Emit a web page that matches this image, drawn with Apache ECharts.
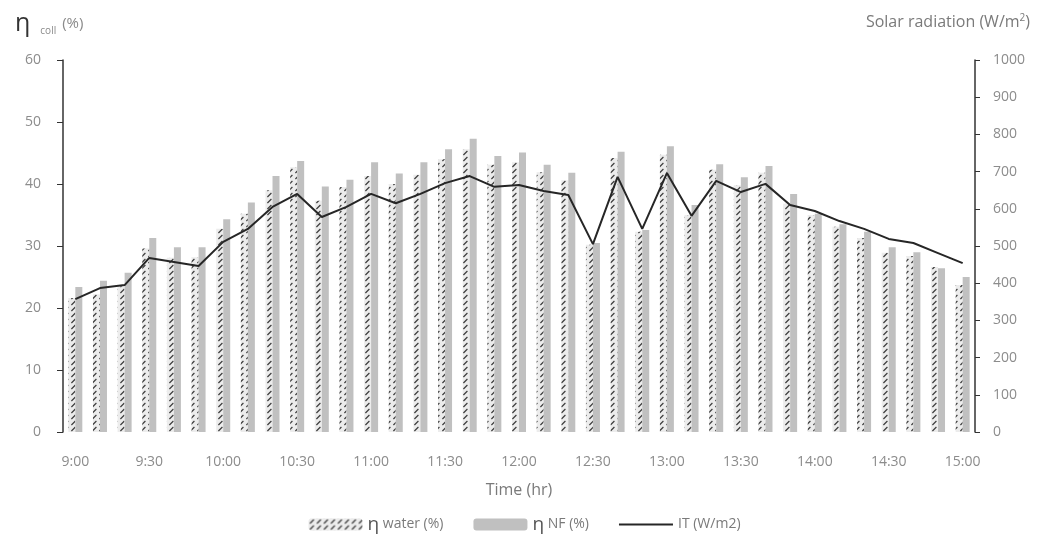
<!DOCTYPE html>
<html>
<head>
<meta charset="utf-8">
<script src="https://cdn.jsdelivr.net/npm/echarts@6/dist/echarts.min.js"></script>
<style>
  html, body { margin: 0; padding: 0; background: #fff; }
  #chart { width: 1049px; height: 534px; }
</style>
</head>
<body>
<div id="chart"></div>
<script>
// Sampling times, every 10 minutes
const times = [
  '9:00','9:10','9:20','9:30','9:40','9:50',
  '10:00','10:10','10:20','10:30','10:40','10:50',
  '11:00','11:10','11:20','11:30','11:40','11:50',
  '12:00','12:10','12:20','12:30','12:40','12:50',
  '13:00','13:10','13:20','13:30','13:40','13:50',
  '14:00','14:10','14:20','14:30','14:40','14:50',
  '15:00'
];

// Collector efficiency with water (%)
const etaWater = [
  21.6, 22.2, 23.5, 29.6, 28.1, 28.2,
  32.8, 35.2, 39.0, 42.7, 37.3, 39.5,
  41.3, 40.0, 41.5, 44.0, 45.6, 43.1,
  43.5, 41.9, 40.6, 30.2, 44.2, 32.3,
  44.7, 35.0, 42.3, 39.8, 41.8, 36.8,
  35.0, 33.1, 31.3, 28.9, 28.4, 26.6,
  23.7
];

// Collector efficiency with nanofluid (%)
const etaNF = [
  23.4, 24.4, 25.7, 31.3, 29.8, 29.8,
  34.3, 37.0, 41.3, 43.7, 39.6, 40.7,
  43.5, 41.7, 43.5, 45.6, 47.3, 44.5,
  45.1, 43.1, 41.8, 30.5, 45.2, 32.6,
  46.1, 36.6, 43.2, 41.1, 42.9, 38.4,
  35.2, 33.5, 32.3, 29.8, 29.0, 26.4,
  25.0
];

// Solar radiation on the collector (W/m2)
const radiation = [
  357, 387, 395, 468, 457, 446,
  511, 546, 605, 640, 578, 605,
  640, 615, 640, 669, 688, 659,
  664, 648, 637, 505, 686, 546,
  696, 581, 675, 645, 667, 610,
  594, 567, 546, 519, 508, 481,
  454
];

const seriesNames = ['η water (%)', 'η NF (%)', 'IT (W/m2)'];

// Diagonal dash fill for the water bars
function hatchPattern() {
  const c = document.createElement('canvas');
  c.width = 7; c.height = 6;
  const g = c.getContext('2d');
  g.fillStyle = '#ececec';
  g.fillRect(0, 0, 7, 6);
  g.strokeStyle = '#3a3a3a';
  g.lineWidth = 1.2;
  g.beginPath();
  g.moveTo(1.4, 5.0);
  g.lineTo(5.4, 1.0);
  g.stroke();
  return c;
}

const labelColor = '#8c8c8c';
const textColor = '#7a7a7a';
const fontFamily = '"Open Sans", Lato, sans-serif';

const chart = echarts.init(document.getElementById('chart'), null, { renderer: 'canvas' });

chart.setOption({
  backgroundColor: '#ffffff',
  animation: false,
  textStyle: { fontFamily: fontFamily },
  title: [
    {
      text: '{eta|η}{sub|coll}{p|(%)}',
      left: 10, top: 6,
      textStyle: {
        fontWeight: 'normal',
        rich: {
          eta: { fontSize: 25, fontWeight: 'normal', color: '#333', fontFamily: fontFamily, verticalAlign: 'bottom', padding: [0, 10, 0, 0] },
          sub: { fontSize: 10, fontWeight: 'normal', color: '#8a8a8a', fontFamily: fontFamily, verticalAlign: 'bottom', padding: [0, 6, 0, 0] },
          p: { fontSize: 15, fontWeight: 'normal', color: '#8a8a8a', fontFamily: fontFamily, verticalAlign: 'bottom', padding: [0, 0, 5, 0] }
        }
      }
    },
    {
      text: 'Solar radiation (W/m{sup|2})',
      right: 14, top: 8,
      textStyle: {
        fontSize: 16, fontWeight: 'normal', color: textColor, fontFamily: fontFamily,
        rich: { sup: { fontSize: 10, fontWeight: 'normal', color: textColor, fontFamily: fontFamily, verticalAlign: 'top', padding: [0, 0, 8, 0] } }
      }
    }
  ],
  grid: { left: 63, right: 74, top: 60, bottom: 102, containLabel: false },
  legend: {
    data: [
      { name: seriesNames[0] },
      { name: seriesNames[1] },
      { name: seriesNames[2], icon: 'path://M0,0 L60,0 L60,2 L0,2 Z' }
    ],
    top: 510,
    left: 'center',
    itemWidth: 54,
    itemHeight: 12,
    itemGap: 30,
    formatter: name => name.replace('η', '{e|η}'),
    textStyle: {
      fontSize: 14, color: textColor, fontFamily: fontFamily,
      rich: { e: { fontSize: 19, color: '#555', fontFamily: fontFamily } }
    }
  },
  xAxis: {
    type: 'category',
    data: times,
    boundaryGap: true,
    name: 'Time (hr)',
    nameLocation: 'middle',
    nameGap: 50,
    nameTextStyle: { fontSize: 16, color: textColor },
    axisLine: { show: false },
    axisTick: { show: false },
    axisLabel: { interval: 2, margin: 23, fontSize: 14, color: labelColor }
  },
  yAxis: [
    {
      type: 'value', min: 0, max: 60, interval: 10, position: 'left',
      splitLine: { show: false },
      axisLine: { show: true, lineStyle: { color: '#333', width: 1.5 } },
      axisTick: { show: true, inside: false, length: 6, lineStyle: { color: '#333' } },
      axisLabel: { margin: 22, fontSize: 14, color: labelColor }
    },
    {
      type: 'value', min: 0, max: 1000, interval: 100, position: 'right',
      splitLine: { show: false },
      axisLine: { show: true, lineStyle: { color: '#333', width: 1.5 } },
      axisTick: { show: true, inside: false, length: 5, lineStyle: { color: '#333' } },
      axisLabel: { margin: 18, fontSize: 14, color: labelColor, formatter: v => String(v) }
    }
  ],
  series: [
    {
      name: seriesNames[0],
      type: 'bar',
      data: etaWater,
      barWidth: 7,
      barGap: '0%',
      itemStyle: { color: { image: hatchPattern(), repeat: 'repeat' } }
    },
    {
      name: seriesNames[1],
      type: 'bar',
      data: etaNF,
      barWidth: 7,
      itemStyle: { color: '#c0c0c0' }
    },
    {
      name: seriesNames[2],
      type: 'line',
      yAxisIndex: 1,
      data: radiation,
      symbol: 'none',
      lineStyle: { color: '#262626', width: 2 },
      itemStyle: { color: '#262626' },
      z: 5
    }
  ]
});
</script>
</body>
</html>
